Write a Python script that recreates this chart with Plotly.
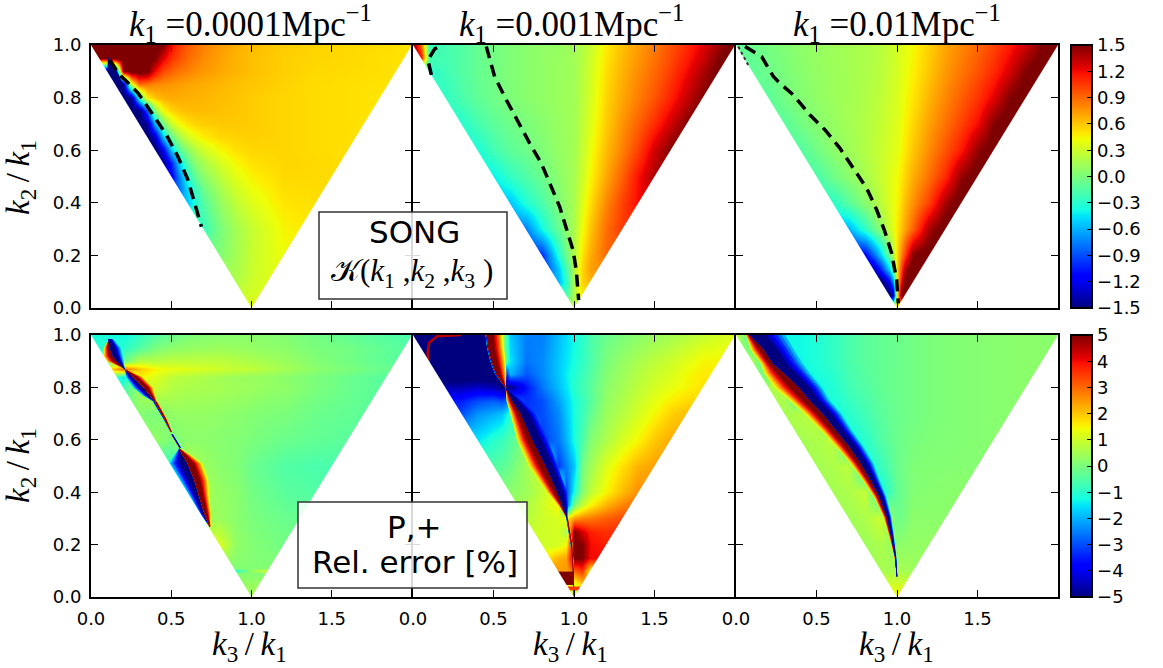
import numpy as np
import plotly.graph_objects as go

W, H = 1163, 668
SERIF = "Liberation Serif"
SANS = "DejaVu Sans"

# ---------- grids: y rows listed from the top (1.0) to the apex (0.0), outside-triangle cells repeat the edge value
a_x = [0,.1,.15,.2,.25,.3,.35,.4,.45,.5,.55,.6,.65,.7,.8,.9,1,1.2,1.4,1.6,1.8,2]
a_y = [1,.95,.9,.85,.8,.75,.7,.65,.6,.55,.5,.45,.4,.3,.2,.1,0]
a_z = [
 [1.6,1.6,1.6,1.6,1.6,1.6,1.6,1.6,1.5,1.2,1.05,.95,.88,.82,.74,.68,.63,.58,.55,.54,.53,.5],
 [1.5,1.5,1.6,1.6,1.6,1.6,1.6,1.5,1.25,1.08,.98,.9,.84,.79,.72,.66,.62,.57,.55,.54,.52,.5],
 [-1.6,-1.6,-1.4,1.5,1.6,1.6,1.55,1.2,1,.92,.86,.82,.78,.75,.7,.66,.62,.57,.54,.53,.52,.5],
 [-1.6,-1.6,-1.6,-1.5,.3,.9,.85,.8,.77,.75,.73,.71,.69,.68,.65,.62,.6,.56,.53,.52,.51,.5],
 [-1.6,-1.6,-1.6,-1.6,-1.55,-.3,.45,.6,.66,.68,.68,.67,.66,.65,.63,.61,.58,.55,.53,.52,.5,.5],
 [-1.6,-1.6,-1.6,-1.6,-1.6,-1.6,-.9,.05,.42,.54,.6,.62,.63,.63,.62,.6,.58,.55,.53,.52,.5,.5],
 [-1.6,-1.6,-1.6,-1.6,-1.6,-1.6,-1.45,-.6,-.05,.28,.42,.5,.55,.57,.59,.59,.58,.55,.53,.52,.5,.5],
 [-1.6,-1.6,-1.6,-1.6,-1.6,-1.6,-1.6,-1.3,-.55,-.1,.15,.3,.4,.47,.54,.56,.57,.55,.53,.52,.5,.5],
 [-1.6,-1.6,-1.6,-1.6,-1.6,-1.6,-1.6,-1.6,-1.2,-.55,-.15,.05,.2,.3,.43,.51,.55,.55,.53,.52,.5,.5],
 [-1.5,-1.5,-1.5,-1.5,-1.5,-1.5,-1.5,-1.5,-1.5,-1.05,-.5,-.15,.05,.16,.32,.44,.51,.55,.54,.52,.5,.5],
 [-1.2,-1.2,-1.2,-1.2,-1.2,-1.2,-1.2,-1.2,-1.2,-1.2,-.75,-.35,-.1,.05,.22,.37,.46,.54,.54,.52,.5,.5],
 [-.8,-.8,-.8,-.8,-.8,-.8,-.8,-.8,-.8,-.8,-.8,-.5,-.25,-.07,.14,.3,.41,.52,.53,.52,.5,.5],
 [-.55,-.55,-.55,-.55,-.55,-.55,-.55,-.55,-.55,-.55,-.55,-.55,-.33,-.15,.08,.24,.36,.5,.52,.52,.5,.5],
 [-.25,-.25,-.25,-.25,-.25,-.25,-.25,-.25,-.25,-.25,-.25,-.25,-.25,-.25,-.02,.14,.27,.45,.5,.5,.5,.5],
 [.02,.02,.02,.02,.02,.02,.02,.02,.02,.02,.02,.02,.02,.02,.02,.14,.28,.42,.46,.5,.5,.5],
 [.18,.18,.18,.18,.18,.18,.18,.18,.18,.18,.18,.18,.18,.18,.18,.18,.3,.4,.45,.45,.45,.45],
 [.35,.35,.35,.35,.35,.35,.35,.35,.35,.35,.35,.35,.35,.35,.35,.35,.35,.35,.35,.35,.35,.35],
]

b_x = [0,.05,.1,.2,.3,.4,.5,.6,.7,.8,.9,.95,1,1.05,1.1,1.2,1.3,1.4,1.5,1.6,1.7,1.8,1.9,2]
b_y = [1,.95,.9,.8,.7,.6,.5,.4,.3,.2,.15,.1,.05,0]
b_z = [
 [1.5,.9,-.25,-.2,-.15,-.08,-.03,.02,.05,.08,.1,.12,.14,.2,.28,.48,.62,.73,.85,.97,1.1,1.25,1.42,1.6],
 [1.4,1.2,-.2,-.2,-.15,-.08,-.03,.02,.05,.08,.1,.12,.14,.21,.3,.5,.64,.75,.87,1,1.14,1.3,1.5,1.6],
 [-.3,-.3,-.3,-.22,-.15,-.08,-.03,.02,.05,.08,.11,.12,.14,.22,.31,.52,.66,.78,.9,1.04,1.2,1.38,1.55,1.6],
 [-.3,-.3,-.3,-.27,-.18,-.1,-.04,.01,.05,.08,.11,.13,.14,.23,.33,.55,.7,.83,.97,1.13,1.32,1.5,1.55,1.6],
 [-.32,-.32,-.32,-.32,-.32,-.2,-.11,-.05,0,.05,.1,.12,.14,.25,.36,.58,.76,.92,1.1,1.3,1.5,1.6,1.6,1.6],
 [-.35,-.35,-.35,-.35,-.35,-.35,-.2,-.11,-.05,.02,.09,.12,.15,.27,.4,.63,.82,1.02,1.3,1.5,1.6,1.6,1.6,1.6],
 [-.42,-.42,-.42,-.42,-.42,-.42,-.42,-.27,-.16,-.06,.06,.11,.16,.3,.45,.7,.92,1.18,1.4,1.5,1.5,1.5,1.5,1.5],
 [-.55,-.55,-.55,-.55,-.55,-.55,-.55,-.55,-.33,-.17,.01,.09,.17,.36,.52,.8,1.02,1.2,1.3,1.3,1.3,1.3,1.3,1.3],
 [-.75,-.75,-.75,-.75,-.75,-.75,-.75,-.75,-.75,-.38,-.08,.05,.18,.42,.6,.88,1.05,1.1,1.1,1.1,1.1,1.1,1.1,1.1],
 [-1,-1,-1,-1,-1,-1,-1,-1,-1,-1,-.35,-.05,.2,.5,.68,.9,.95,.95,.95,.95,.95,.95,.95,.95],
 [-1,-1,-1,-1,-1,-1,-1,-1,-1,-1,-.55,-.2,.2,.55,.72,.8,.85,.85,.85,.85,.85,.85,.85,.85],
 [-.6,-.6,-.6,-.6,-.6,-.6,-.6,-.6,-.6,-.6,-.6,-.3,.2,.55,.65,.65,.65,.65,.65,.65,.65,.65,.65,.65],
 [-.2,-.2,-.2,-.2,-.2,-.2,-.2,-.2,-.2,-.2,-.2,-.2,.2,.5,.5,.5,.5,.5,.5,.5,.5,.5,.5,.5],
 [.2,.2,.2,.2,.2,.2,.2,.2,.2,.2,.2,.2,.2,.2,.2,.2,.2,.2,.2,.2,.2,.2,.2,.2],
]

c_x = [0,.1,.2,.3,.4,.5,.6,.7,.8,.85,.9,.95,.975,1,1.025,1.05,1.1,1.2,1.3,1.4,1.5,1.6,1.7,1.8,1.9,2]
c_y = [1,.9,.8,.7,.6,.5,.4,.3,.2,.15,.1,.05,0]
c_z = [
 [-.1,-.07,-.02,.02,.07,.1,.13,.15,.18,.2,.22,.27,.3,.32,.35,.38,.44,.57,.7,.8,.9,1.02,1.15,1.3,1.5,1.6],
 [-.1,-.1,-.05,0,.05,.09,.12,.15,.18,.2,.23,.28,.3,.33,.37,.4,.47,.6,.74,.85,.97,1.1,1.28,1.5,1.6,1.6],
 [-.12,-.12,-.12,-.03,.03,.08,.12,.15,.19,.22,.25,.3,.32,.34,.39,.43,.5,.66,.8,.93,1.07,1.25,1.5,1.6,1.6,1.6],
 [-.13,-.13,-.13,-.13,-.03,.04,.1,.15,.2,.23,.27,.31,.34,.36,.41,.46,.55,.72,.87,1.02,1.2,1.5,1.6,1.6,1.6,1.6],
 [-.15,-.15,-.15,-.15,-.15,-.03,.06,.13,.2,.24,.28,.33,.36,.38,.44,.5,.6,.79,.96,1.15,1.45,1.6,1.6,1.6,1.6,1.6],
 [-.18,-.18,-.18,-.18,-.18,-.18,-.05,.06,.16,.22,.28,.36,.39,.42,.49,.56,.68,.88,1.1,1.45,1.6,1.6,1.6,1.6,1.6,1.6],
 [-.3,-.3,-.3,-.3,-.3,-.3,-.3,-.12,.05,.14,.24,.35,.4,.45,.54,.63,.78,1.03,1.4,1.6,1.6,1.6,1.6,1.6,1.6,1.6],
 [-.6,-.6,-.6,-.6,-.6,-.6,-.6,-.6,-.28,-.1,.08,.28,.38,.5,.6,.72,.92,1.4,1.6,1.6,1.6,1.6,1.6,1.6,1.6,1.6],
 [-1.15,-1.15,-1.15,-1.15,-1.15,-1.15,-1.15,-1.15,-1.15,-.85,-.5,-.05,.2,.55,.8,1.05,1.5,1.6,1.6,1.6,1.6,1.6,1.6,1.6,1.6,1.6],
 [-1.4,-1.4,-1.4,-1.4,-1.4,-1.4,-1.4,-1.4,-1.4,-1.4,-1,-.5,-.1,.55,1,1.4,1.6,1.6,1.6,1.6,1.6,1.6,1.6,1.6,1.6,1.6],
 [-1.6,-1.6,-1.6,-1.6,-1.6,-1.6,-1.6,-1.6,-1.6,-1.6,-1.6,-1.2,-.7,.5,1.2,1.6,1.6,1.6,1.6,1.6,1.6,1.6,1.6,1.6,1.6,1.6],
 [-1.6,-1.6,-1.6,-1.6,-1.6,-1.6,-1.6,-1.6,-1.6,-1.6,-1.6,-1.6,-1.4,.5,1.6,1.6,1.6,1.6,1.6,1.6,1.6,1.6,1.6,1.6,1.6,1.6],
 [.5,.5,.5,.5,.5,.5,.5,.5,.5,.5,.5,.5,.5,.5,.5,.5,.5,.5,.5,.5,.5,.5,.5,.5,.5,.5],
]

d_x = [0,.1,.2,.3,.4,.5,.6,.7,.8,.9,1,1.1,1.2,1.4,1.6,1.8,2]
d_y = [1,.95,.9,.87,.84,.8,.7,.6,.5,.4,.3,.2,.11,.1,.09,0]
d_z = [
 [-1.2,-1.2,-1.3,-.9,-.5,-.2,0,.1,.15,.2,.2,.15,.1,-.1,-.3,-.45,-.6],
 [-1,-1,-1,-.5,0,.2,.3,.35,.4,.35,.3,.25,.2,0,-.1,-.3,-.5],
 [-.3,-.3,-.3,.7,.7,.8,.8,.8,.8,.7,.6,.5,.4,.1,-.1,-.3,-.5],
 [1.5,1.5,3,2,1.5,1.3,1.2,1.1,1,.9,.8,.65,.5,.2,0,-.2,-.3],
 [0,0,-1.5,1.5,1.2,.8,.7,.6,.5,.4,.35,.3,.2,0,-.2,-.4,-.5],
 [-.8,-.8,-.8,.5,1,.7,.6,.55,.5,.45,.4,.3,.25,0,-.2,-.4,-.5],
 [.1,.1,.1,.1,0,.3,.3,.3,.25,.2,.1,.05,0,-.2,-.3,-.4,-.5],
 [.3,.3,.3,.3,.3,0,.2,.2,.15,.1,0,-.1,-.2,-.3,-.4,-.5,-.5],
 [-.8,-.8,-.8,-.8,-.8,-.8,.8,.4,.2,.1,-.2,-.35,-.5,-.6,-.6,-.6,-.6],
 [0,0,0,0,0,0,0,.6,.3,.2,-.1,-.25,-.4,-.5,-.5,-.5,-.5],
 [.3,.3,.3,.3,.3,.3,.3,.3,.4,.2,0,-.1,-.2,-.3,-.3,-.3,-.3],
 [1.2,1.2,1.2,1.2,1.2,1.2,1.2,1.2,1.2,.3,.1,0,-.1,-.2,-.2,-.2,-.2],
 [.1,.1,.1,.1,.1,.1,.1,.1,.1,.1,.1,.1,0,0,0,0,0],
 [-1.2,-1.2,-1.2,-1.2,-1.2,-1.2,-1.2,-1.2,-1.2,-1.2,.4,1.1,0,0,0,0,0],
 [.1,.1,.1,.1,.1,.1,.1,.1,.1,.1,.1,.1,0,0,0,0,0],
 [.6,.6,.6,.6,.6,.6,.6,.6,.6,.6,.6,.6,.6,.6,.6,.6,.6],
]

e_x = [0,.1,.2,.3,.4,.5,.55,.6,.7,.8,.9,.95,1,1.05,1.1,1.2,1.3,1.4,1.5,1.6,1.7,1.8,1.9,2]
e_y = [1,.9,.85,.8,.75,.7,.6,.5,.4,.35,.3,.25,.2,.15,.1,.05,0]
e_z = [
 [-5.5,-5.5,-5.5,-5.5,-5.5,-5.5,.5,-1.8,-2.5,-2.5,-1.9,-1.6,-1.3,-1,-.6,-.2,0,.2,.35,.5,.7,.9,1.05,1.2],
 [-5.5,-5.5,-5.5,-5.5,-5.5,-5.5,.5,-1.5,-2.6,-2.4,-1.8,-1.5,-1.2,-.9,-.6,0,.3,.55,.8,1,1.25,1.5,1.5,1.5],
 [-5.5,-5.5,-5.5,-5.5,-5.5,-5.5,-5,-2,-2.9,-2.4,-1.8,-1.4,-1.1,-.8,-.5,.1,.4,.7,.95,1.15,1.45,1.6,1.6,1.6],
 [-4.6,-4.6,-4.6,-4.6,-4.4,-4.6,-5,-5,-3.6,-2.6,-1.9,-1.5,-1,-.7,-.4,.2,.5,.8,1.1,1.3,1.5,1.7,1.7,1.7],
 [-3.5,-3.5,-3.5,-3.5,-3,-2.8,-3,-2.5,-3.3,-3,-2.2,-1.7,-1.2,-.85,-.45,.3,.6,.95,1.3,1.6,1.8,1.8,1.8,1.8],
 [-3,-3,-3,-3,-2.3,-2,-1.8,-1,-3.2,-3,-2.4,-1.8,-1.2,-.8,-.3,.4,.7,1.1,1.5,1.9,2.1,2.1,2.1,2.1],
 [-1.5,-1.5,-1.5,-1.5,-1.5,-1,-.8,-.5,.2,-3.2,-2.6,-2,-1.2,-.6,.1,.6,1.1,1.5,2,2.3,2.3,2.3,2.3,2.3],
 [-.5,-.5,-.5,-.5,-.5,-.5,-.4,-.2,.5,1,-3.2,-2.5,-1.8,-.1,.4,1.2,1.7,2.2,2.4,2.4,2.4,2.4,2.4,2.4],
 [.2,.2,.2,.2,.2,.2,.2,.2,.4,.9,1.5,-3,-1.2,.1,.8,1.5,2.1,2.6,2.6,2.6,2.6,2.6,2.6,2.6],
 [.4,.4,.4,.4,.4,.4,.4,.4,.6,1,1.5,-3,0,.9,1.5,2.2,2.7,3,3,3,3,3,3,3],
 [.7,.7,.7,.7,.7,.7,.7,.7,.7,1,1.1,1.5,2.4,2.7,2.8,3.1,3.3,3.5,3.5,3.5,3.5,3.5,3.5,3.5],
 [1,1,1,1,1,1,1,1,1,1,1.1,.6,5,4.3,3.8,3.6,3.7,3.7,3.7,3.7,3.7,3.7,3.7,3.7],
 [1,1,1,1,1,1,1,1,1,1,1.1,1.5,5,5,4,3.8,3.8,3.8,3.8,3.8,3.8,3.8,3.8,3.8],
 [1.4,1.4,1.4,1.4,1.4,1.4,1.4,1.4,1.4,1.4,2.2,2.4,5,5,4,4,4,4,4,4,4,4,4,4],
 [2.5,2.5,2.5,2.5,2.5,2.5,2.5,2.5,2.5,2.5,2.5,2.4,3,3.5,1.5,1.5,1.5,1.5,1.5,1.5,1.5,1.5,1.5,1.5],
 [1.5,1.5,1.5,1.5,1.5,1.5,1.5,1.5,1.5,1.5,1.5,1.5,1.2,2,2,2,2,2,2,2,2,2,2,2],
 [1,1,1,1,1,1,1,1,1,1,1,1,1,1,1,1,1,1,1,1,1,1,1,1],
]

f_x = [0,.1,.2,.3,.4,.5,.6,.7,.8,.9,1,1.1,1.2,1.4,1.6,1.8,2]
f_y = [1,.9,.8,.7,.6,.5,.4,.3,.2,.1,0]
f_z = [
 [1,-1.3,-1.3,-1.3,-1.3,-1.1,-.9,-.6,-.4,-.3,-.2,-.1,0,.1,.15,.2,.2],
 [.6,.6,-1.3,-1.3,-1.3,-1.1,-.9,-.6,-.4,-.3,-.2,-.1,0,.1,.15,.2,.2],
 [.6,.6,.6,.7,-1.3,-1.3,-1.1,-.7,-.5,-.3,-.2,-.1,0,.1,.15,.2,.2],
 [.5,.5,.5,.5,.7,.8,-1.3,-1,-.7,-.4,-.2,-.1,0,.1,.15,.2,.2],
 [.5,.5,.5,.5,.5,.6,.8,-1.3,-1,-.5,-.2,-.05,.05,.1,.15,.2,.2],
 [.5,.5,.5,.5,.5,.5,.6,.8,-1.3,-.8,-.2,.05,.1,.12,.15,.2,.2],
 [.5,.5,.5,.5,.5,.5,.5,.6,.9,-1.3,-.3,.1,.15,.2,.2,.2,.2],
 [.45,.45,.45,.45,.45,.45,.45,.45,.6,1,-.2,.2,.2,.2,.2,.2,.2],
 [.4,.4,.4,.4,.4,.4,.4,.4,.4,.6,.2,.3,.3,.3,.3,.3,.3],
 [.5,.5,.5,.5,.5,.5,.5,.5,.5,.5,.6,.4,.4,.4,.4,.4,.4],
 [1.5,1.5,1.5,1.5,1.5,1.5,1.5,1.5,1.5,1.5,1.5,1.5,1.5,1.5,1.5,1.5,1.5],
]

# ---------- narrow error ridges: y, ridge x, reach to the left, reach to the right, left sign, right sign, palest negative level
d_ridges = [
 ([.985,.95,.92,.9,.87],[.11,.12,.14,.165,.21],[0,.04,.065,.07,0],[.03,.07,.06,.04,0],1,-1,0),
 ([.87,.84,.8,.77,.745],[.21,.265,.33,.37,.4],[0,.05,.07,.05,.01],[0,.06,.06,.03,.01],-1,1,0),
 ([.745,.68,.63],[.4,.46,.5],[.015,.01,.005],[.015,.012,.005],-1,1,0),
 ([.62,.57],[.505,.555],[.006,.006],[.006,.006],1,-1,0),
 ([.568,.54,.51,.447,.383,.32,.268],[.55,.575,.605,.646,.677,.708,.74],[0,.06,.125,.1,.065,.035,0],[0,.05,.09,.085,.06,.04,.005],-1,1,0),
]
e_ridges = [
 ([.8,.75,.7,.6,.5,.4,.35,.3],[.576,.62,.673,.745,.828,.9,.93,.958],[0,.04,.07,.1,.11,.07,.03,0],[0,.08,.12,.13,.1,.08,.045,0],1,-1,3),
 ([1,.95,.9,.85,.8],[.46,.47,.49,.52,.576],[.01,.01,.01,.01,0],[.1,.095,.085,.06,0],-1,1,0),
 ([.3,.2,.1,0],[.958,.985,.995,1.0],[.006,.006,.004,.003],[.006,.006,.004,.003],-1,1,0),
]
f_ridges = [
 ([1,.943,.892,.854,.8,.752,.7,.637,.574,.51,.447,.383,.306,.23,.154,.078],
  [.09,.18,.232,.304,.397,.46,.543,.625,.708,.78,.84,.895,.94,.967,.99,1.0],
  [.03,.09,.08,.13,.16,.13,.12,.1,.09,.07,.055,.04,.025,.015,.006,.002],
  [.24,.2,.2,.17,.15,.13,.12,.1,.09,.08,.055,.04,.025,.015,.006,.002],1,-1,0),
]
ridge_levels = [1.3,2,2.7,3.4,4,4.5,5]
ridge_reach = [1,.9,.8,.7,.6,.5,.4]

# ---------- dashed contours
a_dash_x = [.118,.17,.222,.294,.387,.47,.542,.604,.646,.688]
a_dash_y = [.943,.892,.861,.816,.734,.658,.575,.487,.398,.309]
b_dash_x = [.455,.507,.58,.652,.725,.797,.849,.911,.952,.994,1.014,1.029]
b_dash_y = [.994,.88,.791,.708,.626,.55,.474,.385,.303,.22,.144,.03]
b_hook_x = [.114,.093,.135,.186]
b_hook_y = [.886,.943,.985,1.0]
c_dash_x = [.056,.16,.232,.263,.356,.46,.553,.646,.729,.812,.874,.925,.967,.998,1.008]
c_dash_y = [.994,.955,.88,.86,.81,.734,.677,.607,.531,.455,.373,.29,.208,.106,.018]
c_hook_x = [.014,.076]
c_hook_y = [.994,.924]

# ---------- small patches
a_strip_x = [.105,.14,.17,.2,.1]
a_strip_y = [.955,.93,.89,.85,.85]
e_block_x = [.85,1.0,1.0,.85,.85]
e_block_y = [.097,.097,.046,.046,.097]
e_tip_x = [.96,1.04,1.04,.96,.96]
e_tip_y = [.04,.04,.025,.025,.04]
e_arc_x = [.1,.09,.1,.15,.3]
e_arc_y = [.88,.93,.97,.995,1.0]

titles = ["0.0001","0.001","0.01"]
x_ticks = [0,.5,1,1.5]
y_ticks = [0,.2,.4,.6,.8,1]
top_ticks = [-1.5,-1.2,-.9,-.6,-.3,0,.3,.6,.9,1.2,1.5]
bottom_ticks = [-5,-4,-3,-2,-1,0,1,2,3,4,5]

# ---------- jet
stops = [0,.11,.125,.34,.35,.375,.64,.65,.66,.89,.91,1]
def jet(f):
    f = min(max(f,0),1)
    r = np.interp(f,[0,.35,.66,.89,1],[0,0,1,1,.5])
    g = np.interp(f,[0,.125,.375,.64,.91,1],[0,0,1,1,0,0])
    b = np.interp(f,[0,.11,.34,.65,1],[.5,1,1,0,0])
    return f"rgb({int(r*255)},{int(g*255)},{int(b*255)})"
jet_scale = [[s,jet(s)] for s in stops]

fig = go.Figure()
col_px = [(91,412),(413,735),(736,1058)]
row_px = [(45,308),(335,597)]
panels = [(a_x,a_y,a_z,"coloraxis",0,0),(b_x,b_y,b_z,"coloraxis",0,1),(c_x,c_y,c_z,"coloraxis",0,2),
          (d_x,d_y,d_z,"coloraxis2",1,0),(e_x,e_y,e_z,"coloraxis2",1,1),(f_x,f_y,f_z,"coloraxis2",1,2)]
axis_line = dict(showline=True, linecolor="black", linewidth=2, mirror="ticks", ticks="inside", ticklen=7,
                 tickwidth=1, tickcolor="black", showgrid=False, zeroline=False, ticklabelstandoff=4,
                 tickfont=dict(family=SANS,size=18,color="black"))
layout = {}
refs = []
for i,(xs,ys,zs,ca,r,c) in enumerate(panels):
    n = "" if i==0 else str(i+1)
    xa, ya = "x"+n, "y"+n
    refs.append((xa,ya))
    layout["xaxis"+n] = dict(axis_line, domain=[col_px[c][0]/W,col_px[c][1]/W], range=[0,2], anchor=ya,
                             tickvals=x_ticks, tickformat=".1f", showticklabels=r==1)
    layout["yaxis"+n] = dict(axis_line, domain=[1-row_px[r][1]/H,1-row_px[r][0]/H], range=[0,1], anchor=xa,
                             tickvals=y_ticks, tickformat=".1f", showticklabels=c==0)
    assert all(len(v)==len(xs) for v in zs) and len(zs)==len(ys), i
    fig.add_trace(go.Heatmap(x=xs,y=ys[::-1],z=zs[::-1],coloraxis=ca,zsmooth="best",xaxis=xa,yaxis=ya,hoverinfo="skip"))

def poly(xa,ya,xs,ys,color):
    fig.add_trace(go.Scatter(x=list(xs),y=list(ys),mode="none",fill="toself",fillcolor=color,xaxis=xa,yaxis=ya,
                             hoverinfo="skip",showlegend=False))

def ridges(idx,items):
    xa,ya = refs[idx]
    for ys,xc,wl,wr,sl,sr,neg in items:
        for side,w,s in ((-1,wl,sl),(1,wr,sr)):
            for lv,rc in zip(ridge_levels,ridge_reach):
                if s<0 and lv<neg:
                    continue
                v = s*lv
                edge = [x+side*rc*q for x,q in zip(xc,w)]
                inner = [x-side*.002 for x in xc]
                poly(xa,ya,edge+inner[::-1],ys+ys[::-1],jet((v+5)/10))

poly(*refs[0],a_strip_x,a_strip_y,jet(0))
ridges(3,d_ridges)
ridges(4,e_ridges)
ridges(5,f_ridges)
poly(*refs[4],e_block_x,e_block_y,jet(1))
poly(*refs[4],e_tip_x,e_tip_y,jet(.85))
fig.add_trace(go.Scatter(x=e_arc_x,y=e_arc_y,mode="lines",line=dict(color=jet(.95),width=2.5),xaxis=refs[4][0],yaxis=refs[4][1],
                         hoverinfo="skip",showlegend=False))

for xa,ya in refs:
    poly(xa,ya,[0,1,0,0],[1,0,0,1],"white")
    poly(xa,ya,[2,1,2,2],[1,0,0,1],"white")

def dash(idx,xs,ys,width=3.5,d="12px,7px",color="black"):
    fig.add_trace(go.Scatter(x=xs,y=ys,mode="lines",line=dict(color=color,width=width,dash=d),
                             xaxis=refs[idx][0],yaxis=refs[idx][1],hoverinfo="skip",showlegend=False))
dash(0,a_dash_x,a_dash_y)
dash(1,b_dash_x,b_dash_y)
dash(1,b_hook_x,b_hook_y)
dash(2,c_dash_x,c_dash_y)
dash(2,c_hook_x,c_hook_y,width=2,d="3px,3px",color="#333333")

cb = dict(thicknessmode="pixels",thickness=21,lenmode="fraction",xanchor="left",x=1071/W,xpad=0,ypad=0,
          yanchor="top",ticks="inside",ticklen=6,tickcolor="black",outlinecolor="black",outlinewidth=2,
          tickfont=dict(family=SANS,size=18,color="black"),tickformat=".1f")
layout["coloraxis"] = dict(colorscale=jet_scale,cmin=-1.5,cmax=1.5,
    colorbar=dict(cb,y=1-45/H,len=263/H,tickvals=top_ticks))
layout["coloraxis2"] = dict(colorscale=jet_scale,cmin=-5,cmax=5,
    colorbar=dict(cb,y=1-335/H,len=262/H,tickvals=bottom_ticks,tickformat="d"))

def T(px,py,text,size,family=SERIF,angle=0):
    return dict(xref="paper",yref="paper",x=px/W,y=1-py/H,text=text,showarrow=False,xanchor="center",yanchor="middle",
                font=dict(family=family,size=size,color="black"),textangle=angle)
ann = []
for cx,t in zip((250,571,897),titles):
    ann.append(T(cx,24,f"<i>k</i><sub>1</sub> ={t}Mpc<sup>−1</sup>",35))
    ann.append(T(cx-1,646,"<i>k</i><sub>3</sub>\u2009/\u2009<i>k</i><sub>1</sub>",33))
for cy in (178,466):
    ann.append(T(20,cy,"<i>k</i><sub>2</sub>\u2009/\u2009<i>k</i><sub>1</sub>",33,angle=-90))
ann += [T(414,232,"SONG",31,SANS),
        T(412,273,"𝒦(<i>k</i><sub>1</sub> ,<i>k</i><sub>2</sub> ,<i>k</i><sub>3</sub> )",31),
        T(414,527,"P,+",31,SANS),
        T(415,562,"Rel. error [%]",31,SANS)]
def box(x0,y0,x1,y1):
    return dict(type="rect",xref="paper",yref="paper",x0=x0/W,x1=x1/W,y0=1-y1/H,y1=1-y0/H,
                fillcolor="rgba(255,255,255,.85)",line=dict(color="#333333",width=1.5),layer="above")
fig.update_layout(width=W,height=H,margin=dict(l=0,r=0,t=0,b=0,autoexpand=False),paper_bgcolor="white",plot_bgcolor="white",
                  showlegend=False,annotations=ann,shapes=[box(319,212,507,299),box(298,502,527,588)],**layout)
fig.write_html("out.html",config=dict(displayModeBar=False),post_script="document.body.style.margin='0';")
